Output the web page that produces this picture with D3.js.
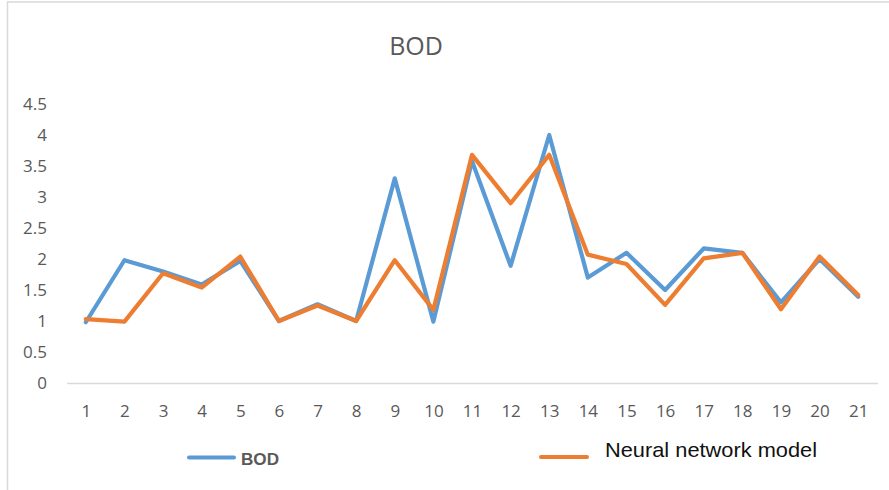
<!DOCTYPE html>
<html>
<head>
<meta charset="utf-8">
<script src="https://cdn.jsdelivr.net/npm/d3@7"></script>
<style>
  html, body { margin: 0; padding: 0; background: #ffffff; }
  svg { display: block; }
</style>
</head>
<body>
<svg id="chart" width="889" height="490"></svg>
<script>
// Sample index 1..21
const categories = d3.range(1, 22).map(String);

// Measured BOD values
const bodValues = [0.98, 1.98, 1.80, 1.59, 1.97, 1.00, 1.27, 1.00, 3.30, 0.99, 3.58,
                   1.89, 4.00, 1.70, 2.10, 1.50, 2.17, 2.10, 1.30, 2.00, 1.39];

// Neural network model predictions
const nnValues = [1.03, 0.99, 1.77, 1.54, 2.04, 1.00, 1.25, 1.00, 1.98, 1.18, 3.68,
                  2.90, 3.68, 2.07, 1.92, 1.26, 2.01, 2.10, 1.19, 2.04, 1.42];

const yTicks = [0, 0.5, 1, 1.5, 2, 2.5, 3, 3.5, 4, 4.5];

const seriesNames = ["BOD", "Neural network model"];
const colors = ["#5b9bd5", "#ed7d31"];

const svg = d3.select("#chart");

// Outer chart frame (light grey)
svg.append("rect")
  .attr("x", 7.5).attr("y", 2)
  .attr("width", 900).attr("height", 600)
  .attr("fill", "none")
  .attr("stroke", "#d9d9d9")
  .attr("stroke-width", 1.5);

const x = d3.scalePoint()
  .domain(categories)
  .range([66.5, 877.5])
  .padding(0.5);

const y = d3.scaleLinear()
  .domain([0, 4.5])
  .range([383, 104]);

// Title
svg.append("text")
  .attr("x", 416).attr("y", 55)
  .attr("text-anchor", "middle")
  .attr("font-family", "'Open Sans', sans-serif")
  .attr("font-size", 25)
  .attr("fill", "#595959")
  .text("BOD");

// Y axis labels (no axis line, no ticks)
const yAxis = d3.axisLeft(y).tickValues(yTicks).tickSize(0).tickPadding(0)
  .tickFormat(d3.format("~g"));
const gy = svg.append("g").attr("transform", "translate(47,0)").call(yAxis);
gy.select(".domain").remove();
gy.selectAll("text")
  .attr("font-family", "'Open Sans', sans-serif")
  .attr("font-size", 17)
  .attr("fill", "#595959");

// X axis: baseline + category labels
const xAxis = d3.axisBottom(x).tickSize(0).tickPadding(22);
const gx = svg.append("g").attr("transform", "translate(0,383)").call(xAxis);
gx.select(".domain")
  .attr("stroke", "#d9d9d9")
  .attr("stroke-width", 1.5);
gx.selectAll("text")
  .attr("font-family", "'Open Sans', sans-serif")
  .attr("font-size", 17)
  .attr("fill", "#595959");

// Lines
const line = d3.line()
  .x((d, i) => x(categories[i]))
  .y(d => y(d));

[bodValues, nnValues].forEach((vals, k) => {
  svg.append("path")
    .datum(vals)
    .attr("d", line)
    .attr("fill", "none")
    .attr("stroke", colors[k])
    .attr("stroke-width", 4.2)
    .attr("stroke-linejoin", "round")
    .attr("stroke-linecap", "round");
});

// Legend
const legend = svg.append("g");
legend.append("line")
  .attr("x1", 189).attr("x2", 234)
  .attr("y1", 457.5).attr("y2", 457.5)
  .attr("stroke", colors[0]).attr("stroke-width", 4)
  .attr("stroke-linecap", "round");
legend.append("text")
  .attr("x", 241).attr("y", 465)
  .attr("font-family", "'Liberation Sans', Arial, sans-serif")
  .attr("font-weight", "bold")
  .attr("font-size", 16)
  .attr("textLength", 38)
  .attr("lengthAdjust", "spacingAndGlyphs")
  .attr("fill", "#595959")
  .text(seriesNames[0]);

legend.append("line")
  .attr("x1", 541).attr("x2", 587)
  .attr("y1", 457).attr("y2", 457)
  .attr("stroke", colors[1]).attr("stroke-width", 4)
  .attr("stroke-linecap", "round");
legend.append("text")
  .attr("x", 605).attr("y", 457)
  .attr("font-family", "'Liberation Sans', Arial, sans-serif")
  .attr("font-size", 21)
  .attr("textLength", 212)
  .attr("lengthAdjust", "spacingAndGlyphs")
  .attr("fill", "#111111")
  .text(seriesNames[1]);
</script>
</body>
</html>
